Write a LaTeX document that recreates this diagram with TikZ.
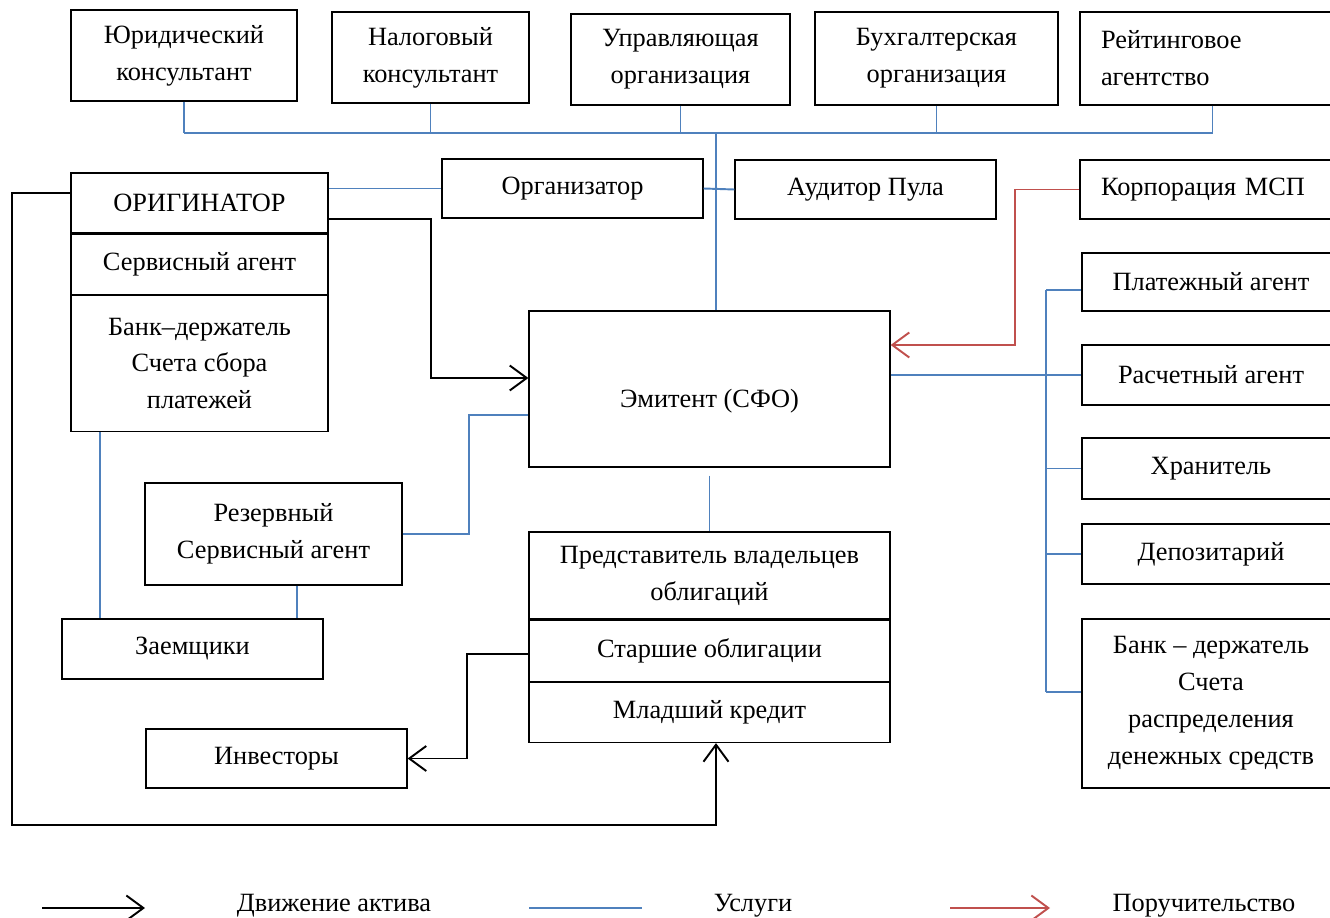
\documentclass[tikz,border=0pt]{standalone}
\usepackage{fontspec}
\setmainfont{Liberation Serif}
\usepackage{xcolor}
\usetikzlibrary{arrows.meta,positioning,calc}

\definecolor{servblue}{RGB}{79,129,189}
\definecolor{guarred}{RGB}{192,80,77}

\tikzset{
  box/.style={draw, line width=0.7pt, inner sep=2pt, align=center},
  lbox/.style={box, align=left, text width=#1, inner xsep=0.42cm},
  serv/.style={servblue, line width=1.1pt},
  asset/.style={black, line width=1.1pt, -{Straight Barb[length=3.4mm,width=5mm]}},
  guar/.style={guarred, line width=1.1pt, -{Straight Barb[length=3.4mm,width=5mm]}}
}

\begin{document}
\begin{tikzpicture}[font=\fontsize{15}{21}\selectfont]
\useasboundingbox (0,0) rectangle (26.6,-18.36);

% top row of consultants
\node[box, minimum width=4.52cm, minimum height=1.82cm] (jur) at (3.68,-1.11) {Юридический\\консультант};
\node[box, minimum width=3.94cm, minimum height=1.82cm] (nal) at (8.61,-1.15) {Налоговый\\консультант};
\node[box, minimum width=4.38cm, minimum height=1.82cm] (upr) at (13.61,-1.19) {Управляющая\\организация};
\node[box, minimum width=4.86cm, minimum height=1.86cm] (buh) at (18.73,-1.17) {Бухгалтерская\\организация};
\node[lbox=4.46cm, minimum height=1.86cm] (rei) at (24.25,-1.17) {Рейтинговое\\агентство};

% originator stack
\node[box, minimum width=5.14cm, minimum height=1.2cm] (orig) at (3.99,-4.06) {ОРИГИНАТОР};
\node[box, minimum width=5.14cm, minimum height=1.2cm, below=0pt of orig] (serva) {Сервисный агент};
\node[box, minimum width=5.14cm, minimum height=2.72cm, below=0pt of serva] (bankc) {Банк–держатель\\Счета сбора\\платежей};

\node[box, minimum width=5.22cm, minimum height=1.18cm] (orgz) at (11.45,-3.77) {Организатор};
\node[box, minimum width=5.22cm, minimum height=1.18cm] (aud) at (17.31,-3.79) {Аудитор Пула};
\node[lbox=4.46cm, minimum height=1.18cm] (msp) at (24.25,-3.79) {Корпорация МСП};

% issuer
\node[box, minimum width=7.22cm, minimum height=3.12cm] (emit) at (14.19,-7.78) {};
\node (emitt) at (14.19,-8.02) {Эмитент (СФО)};

% right column
\node[box, minimum width=5.16cm, minimum height=1.16cm] (plat) at (24.22,-5.64) {Платежный агент};
\node[box, minimum width=5.16cm, minimum height=1.2cm] (rasch) at (24.22,-7.5) {Расчетный агент};
\node[box, minimum width=5.16cm, minimum height=1.22cm] (hran) at (24.22,-9.37) {Хранитель};
\node[box, minimum width=5.16cm, minimum height=1.2cm] (depo) at (24.22,-11.08) {Депозитарий};
\node[box, minimum width=5.16cm, minimum height=3.38cm] (bankr) at (24.22,-14.07) {Банк – держатель\\Счета\\распределения\\денежных средств};

% left lower boxes
\node[box, minimum width=5.14cm, minimum height=2.04cm] (rezerv) at (5.47,-10.68) {Резервный\\Сервисный агент};
\node[box, minimum width=5.22cm, minimum height=1.2cm] (zaem) at (3.85,-12.98) {Заемщики};
\node[box, minimum width=5.22cm, minimum height=1.18cm] (invest) at (5.53,-15.17) {Инвесторы};

% bonds stack
\node[box, minimum width=7.22cm, minimum height=1.74cm] (predst) at (14.19,-11.51) {Представитель владельцев\\облигаций};
\node[box, minimum width=7.22cm, minimum height=1.22cm, below=0pt of predst] (senior) {Старшие облигации};
\node[box, minimum width=7.22cm, minimum height=1.2cm, below=0pt of senior] (junior) {Младший кредит};

% services bus on top
\coordinate (bus) at (14.32,-2.66);
\draw[serv] (jur.south |- bus) -- (rei.south |- bus);
\foreach \b in {jur,nal,upr,buh,rei}
  \draw[serv] (\b.south) -- (\b.south |- bus);
\draw[serv] (bus) -- (bus |- emit.north);
\draw[serv] (orgz.west -| orig.east) -- (orgz.west);
\draw[serv] (orgz.east) -- (aud.west);

% services on the right
\coordinate (rbus) at (20.92,-5.8);
\coordinate (bankrw) at ([yshift=2.3mm]bankr.west);
\draw[serv] (rasch.west -| emit.east) -- (rasch.west);
\draw[serv] (rbus) -- (rbus |- bankrw);
\foreach \b in {hran,depo}
  \draw[serv] (rbus |- \b.west) -- (\b.west);
\draw[serv] (rbus) -- (rbus -| plat.west);
\draw[serv] (rbus |- bankrw) -- (bankrw);

% services on the left
\draw[serv] (rezerv.east) -- ++(1.32,0) |- ([yshift=-5.2mm]emit.west);
\draw[serv] (2,0 |- bankc.south) -- (2,0 |- zaem.north);
\draw[serv] (5.94,0 |- rezerv.south) -- (5.94,0 |- zaem.north);
\draw[serv] ([yshift=-1.6mm]emit.south) -- (predst.north);

% asset flow
\coordinate (lowleft) at (0.24,-16.5);
\draw[asset] ([yshift=-3.2mm]orig.east) -- ++(2.04,0) |- ([yshift=2.2mm]emit.west);
\draw[asset] ([yshift=2mm]orig.west) -| (lowleft) -| ([xshift=1.3mm]junior.south);
\draw[asset] ([yshift=-0.7mm]senior.west) -- ++(-1.22,0) |- (invest.east);

% guarantee
\draw[guar] (msp.west) -- ++(-1.28,0) |- ([yshift=8.8mm]emit.east);

% legend
\coordinate (la1) at (0.84,-18.16);
\coordinate (la2) at (2.9,-18.16);
\coordinate (lb1) at (10.58,-18.16);
\coordinate (lb2) at (12.84,-18.16);
\coordinate (lc1) at (19.0,-18.16);
\coordinate (lc2) at (21.0,-18.16);
\draw[asset] (la1) -- (la2);
\draw[serv] (lb1) -- (lb2);
\draw[guar] (lc1) -- (lc2);
\node (lta) at (6.68,-18.12) {Движение актива};
\node (ltb) at (15.06,-18.12) {Услуги};
\node (ltc) at (24.08,-18.12) {Поручительство};
\end{tikzpicture}
\end{document}
